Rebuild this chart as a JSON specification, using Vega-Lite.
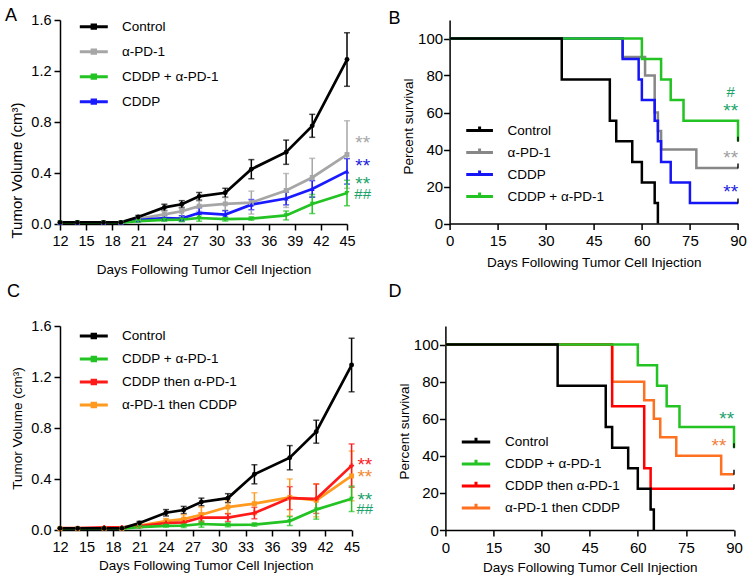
{
  "$schema": "https://vega.github.io/schema/vega-lite/v6.json",
  "background": "white",
  "padding": {"left": 5, "top": 6, "right": 5, "bottom": 5},
  "config": {
    "font": "Liberation Sans",
    "view": {"stroke": null},
    "axis": {"domainColor": "black", "domainWidth": 1.5, "tickColor": "black", "tickWidth": 1.5, "tickSize": 6, "labelColor": "black", "labelFontSize": 14.5, "labelPadding": 3, "titleColor": "black", "titleFontSize": 13.5, "titleFontWeight": "normal", "grid": false, "labelFlush": false, "labelOverlap": false},
    "axisX": {"labelPadding": 4},
    "legend": {"labelFontSize": 13.5, "labelColor": "black", "padding": 0, "orient": "none", "title": null},
    "title": {"fontSize": 18, "fontWeight": "normal", "color": "black", "anchor": "start", "frame": "group", "offset": 0}
  },
  "datasets": {
    "tumA": [
      {"g": "α-PD-1", "day": 12, "vol": 0.01, "sem": 0}, {"g": "α-PD-1", "day": 14, "vol": 0.01, "sem": 0}, {"g": "α-PD-1", "day": 17, "vol": 0.01, "sem": 0}, {"g": "α-PD-1", "day": 19, "vol": 0.012, "sem": 0}, {"g": "α-PD-1", "day": 21, "vol": 0.04, "sem": 0.01}, {"g": "α-PD-1", "day": 24, "vol": 0.075, "sem": 0.03}, {"g": "α-PD-1", "day": 26, "vol": 0.1, "sem": 0.035}, {"g": "α-PD-1", "day": 28, "vol": 0.14, "sem": 0.04}, {"g": "α-PD-1", "day": 31, "vol": 0.158, "sem": 0.05}, {"g": "α-PD-1", "day": 34, "vol": 0.168, "sem": 0.09}, {"g": "α-PD-1", "day": 38, "vol": 0.263, "sem": 0.133}, {"g": "α-PD-1", "day": 41, "vol": 0.365, "sem": 0.15}, {"g": "α-PD-1", "day": 45, "vol": 0.545, "sem": 0.265},
      {"g": "CDDP", "day": 12, "vol": 0.01, "sem": 0}, {"g": "CDDP", "day": 14, "vol": 0.01, "sem": 0}, {"g": "CDDP", "day": 17, "vol": 0.01, "sem": 0}, {"g": "CDDP", "day": 19, "vol": 0.01, "sem": 0}, {"g": "CDDP", "day": 21, "vol": 0.03, "sem": 0.008}, {"g": "CDDP", "day": 24, "vol": 0.047, "sem": 0.02}, {"g": "CDDP", "day": 26, "vol": 0.043, "sem": 0.022}, {"g": "CDDP", "day": 28, "vol": 0.087, "sem": 0.04}, {"g": "CDDP", "day": 31, "vol": 0.074, "sem": 0.03}, {"g": "CDDP", "day": 34, "vol": 0.152, "sem": 0.04}, {"g": "CDDP", "day": 38, "vol": 0.2, "sem": 0.05}, {"g": "CDDP", "day": 41, "vol": 0.275, "sem": 0.065}, {"g": "CDDP", "day": 45, "vol": 0.413, "sem": 0.1},
      {"g": "CDDP + α-PD-1", "day": 12, "vol": 0.01, "sem": 0}, {"g": "CDDP + α-PD-1", "day": 14, "vol": 0.01, "sem": 0}, {"g": "CDDP + α-PD-1", "day": 17, "vol": 0.01, "sem": 0}, {"g": "CDDP + α-PD-1", "day": 19, "vol": 0.01, "sem": 0}, {"g": "CDDP + α-PD-1", "day": 21, "vol": 0.022, "sem": 0.005}, {"g": "CDDP + α-PD-1", "day": 24, "vol": 0.033, "sem": 0.01}, {"g": "CDDP + α-PD-1", "day": 26, "vol": 0.034, "sem": 0.015}, {"g": "CDDP + α-PD-1", "day": 28, "vol": 0.047, "sem": 0.025}, {"g": "CDDP + α-PD-1", "day": 31, "vol": 0.038, "sem": 0.015}, {"g": "CDDP + α-PD-1", "day": 34, "vol": 0.042, "sem": 0.012}, {"g": "CDDP + α-PD-1", "day": 38, "vol": 0.067, "sem": 0.035}, {"g": "CDDP + α-PD-1", "day": 41, "vol": 0.157, "sem": 0.075}, {"g": "CDDP + α-PD-1", "day": 45, "vol": 0.243, "sem": 0.1},
      {"g": "Control", "day": 12, "vol": 0.013, "sem": 0}, {"g": "Control", "day": 14, "vol": 0.012, "sem": 0}, {"g": "Control", "day": 17, "vol": 0.012, "sem": 0}, {"g": "Control", "day": 19, "vol": 0.013, "sem": 0}, {"g": "Control", "day": 21, "vol": 0.055, "sem": 0.012}, {"g": "Control", "day": 24, "vol": 0.13, "sem": 0.025}, {"g": "Control", "day": 26, "vol": 0.155, "sem": 0.028}, {"g": "Control", "day": 28, "vol": 0.217, "sem": 0.03}, {"g": "Control", "day": 31, "vol": 0.245, "sem": 0.035}, {"g": "Control", "day": 34, "vol": 0.43, "sem": 0.075}, {"g": "Control", "day": 38, "vol": 0.563, "sem": 0.095}, {"g": "Control", "day": 41, "vol": 0.77, "sem": 0.09}, {"g": "Control", "day": 45, "vol": 1.29, "sem": 0.21}
    ],
    "tumC": [
      {"g": "α-PD-1 then CDDP", "day": 12, "vol": 0.01, "sem": 0}, {"g": "α-PD-1 then CDDP", "day": 14, "vol": 0.01, "sem": 0}, {"g": "α-PD-1 then CDDP", "day": 17, "vol": 0.012, "sem": 0}, {"g": "α-PD-1 then CDDP", "day": 19, "vol": 0.012, "sem": 0}, {"g": "α-PD-1 then CDDP", "day": 21, "vol": 0.035, "sem": 0.008}, {"g": "α-PD-1 then CDDP", "day": 24, "vol": 0.07, "sem": 0.02}, {"g": "α-PD-1 then CDDP", "day": 26, "vol": 0.085, "sem": 0.035}, {"g": "α-PD-1 then CDDP", "day": 28, "vol": 0.12, "sem": 0.06}, {"g": "α-PD-1 then CDDP", "day": 31, "vol": 0.18, "sem": 0.05}, {"g": "α-PD-1 then CDDP", "day": 34, "vol": 0.207, "sem": 0.085}, {"g": "α-PD-1 then CDDP", "day": 38, "vol": 0.255, "sem": 0.145}, {"g": "α-PD-1 then CDDP", "day": 41, "vol": 0.233, "sem": 0.13}, {"g": "α-PD-1 then CDDP", "day": 45, "vol": 0.424, "sem": 0.195},
      {"g": "CDDP then α-PD-1", "day": 12, "vol": 0.015, "sem": 0}, {"g": "CDDP then α-PD-1", "day": 14, "vol": 0.015, "sem": 0}, {"g": "CDDP then α-PD-1", "day": 17, "vol": 0.02, "sem": 0}, {"g": "CDDP then α-PD-1", "day": 19, "vol": 0.02, "sem": 0}, {"g": "CDDP then α-PD-1", "day": 21, "vol": 0.03, "sem": 0.008}, {"g": "CDDP then α-PD-1", "day": 24, "vol": 0.055, "sem": 0.015}, {"g": "CDDP then α-PD-1", "day": 26, "vol": 0.06, "sem": 0.02}, {"g": "CDDP then α-PD-1", "day": 28, "vol": 0.098, "sem": 0.035}, {"g": "CDDP then α-PD-1", "day": 31, "vol": 0.097, "sem": 0.03}, {"g": "CDDP then α-PD-1", "day": 34, "vol": 0.133, "sem": 0.045}, {"g": "CDDP then α-PD-1", "day": 38, "vol": 0.25, "sem": 0.09}, {"g": "CDDP then α-PD-1", "day": 41, "vol": 0.245, "sem": 0.115}, {"g": "CDDP then α-PD-1", "day": 45, "vol": 0.505, "sem": 0.17},
      {"g": "CDDP + α-PD-1", "day": 12, "vol": 0.01, "sem": 0}, {"g": "CDDP + α-PD-1", "day": 14, "vol": 0.01, "sem": 0}, {"g": "CDDP + α-PD-1", "day": 17, "vol": 0.01, "sem": 0}, {"g": "CDDP + α-PD-1", "day": 19, "vol": 0.01, "sem": 0}, {"g": "CDDP + α-PD-1", "day": 21, "vol": 0.022, "sem": 0.005}, {"g": "CDDP + α-PD-1", "day": 24, "vol": 0.033, "sem": 0.01}, {"g": "CDDP + α-PD-1", "day": 26, "vol": 0.034, "sem": 0.015}, {"g": "CDDP + α-PD-1", "day": 28, "vol": 0.047, "sem": 0.025}, {"g": "CDDP + α-PD-1", "day": 31, "vol": 0.04, "sem": 0.015}, {"g": "CDDP + α-PD-1", "day": 34, "vol": 0.042, "sem": 0.012}, {"g": "CDDP + α-PD-1", "day": 38, "vol": 0.07, "sem": 0.035}, {"g": "CDDP + α-PD-1", "day": 41, "vol": 0.16, "sem": 0.075}, {"g": "CDDP + α-PD-1", "day": 45, "vol": 0.245, "sem": 0.1},
      {"g": "Control", "day": 12, "vol": 0.013, "sem": 0}, {"g": "Control", "day": 14, "vol": 0.012, "sem": 0}, {"g": "Control", "day": 17, "vol": 0.012, "sem": 0}, {"g": "Control", "day": 19, "vol": 0.013, "sem": 0}, {"g": "Control", "day": 21, "vol": 0.055, "sem": 0.012}, {"g": "Control", "day": 24, "vol": 0.135, "sem": 0.025}, {"g": "Control", "day": 26, "vol": 0.157, "sem": 0.028}, {"g": "Control", "day": 28, "vol": 0.22, "sem": 0.03}, {"g": "Control", "day": 31, "vol": 0.25, "sem": 0.035}, {"g": "Control", "day": 34, "vol": 0.437, "sem": 0.075}, {"g": "Control", "day": 38, "vol": 0.567, "sem": 0.095}, {"g": "Control", "day": 41, "vol": 0.771, "sem": 0.09}, {"g": "Control", "day": 45, "vol": 1.294, "sem": 0.21}
    ],
    "survB": [
      {"g": "α-PD-1", "day": 0, "surv": 100}, {"g": "α-PD-1", "day": 54, "surv": 90}, {"g": "α-PD-1", "day": 61, "surv": 80}, {"g": "α-PD-1", "day": 64, "surv": 60}, {"g": "α-PD-1", "day": 65, "surv": 50}, {"g": "α-PD-1", "day": 66, "surv": 40}, {"g": "α-PD-1", "day": 77, "surv": 30}, {"g": "α-PD-1", "day": 90, "surv": 30},
      {"g": "CDDP", "day": 0, "surv": 100}, {"g": "CDDP", "day": 54, "surv": 88.9}, {"g": "CDDP", "day": 59, "surv": 77.8}, {"g": "CDDP", "day": 60, "surv": 66.7}, {"g": "CDDP", "day": 64, "surv": 55.6}, {"g": "CDDP", "day": 65, "surv": 44.4}, {"g": "CDDP", "day": 66, "surv": 33.3}, {"g": "CDDP", "day": 69, "surv": 22.2}, {"g": "CDDP", "day": 75, "surv": 11.1}, {"g": "CDDP", "day": 90, "surv": 11.1},
      {"g": "CDDP + α-PD-1", "day": 0, "surv": 100}, {"g": "CDDP + α-PD-1", "day": 60, "surv": 88.9}, {"g": "CDDP + α-PD-1", "day": 66, "surv": 77.8}, {"g": "CDDP + α-PD-1", "day": 69, "surv": 66.7}, {"g": "CDDP + α-PD-1", "day": 73, "surv": 55.6}, {"g": "CDDP + α-PD-1", "day": 90, "surv": 44.4},
      {"g": "Control", "day": 0, "surv": 100}, {"g": "Control", "day": 35, "surv": 77.8}, {"g": "Control", "day": 50, "surv": 55.6}, {"g": "Control", "day": 52, "surv": 44.4}, {"g": "Control", "day": 57, "surv": 33.3}, {"g": "Control", "day": 60, "surv": 22.2}, {"g": "Control", "day": 64, "surv": 11.1}, {"g": "Control", "day": 65, "surv": 0}
    ],
    "censB": [
      {"g": "α-PD-1", "day": 90, "surv": 30}, {"g": "CDDP", "day": 90, "surv": 11.1}, {"g": "CDDP + α-PD-1", "day": 90, "surv": 44.4}
    ],
    "survD": [
      {"g": "α-PD-1 then CDDP", "day": 0, "surv": 100}, {"g": "α-PD-1 then CDDP", "day": 52, "surv": 80}, {"g": "α-PD-1 then CDDP", "day": 62, "surv": 70}, {"g": "α-PD-1 then CDDP", "day": 65, "surv": 60}, {"g": "α-PD-1 then CDDP", "day": 67, "surv": 50}, {"g": "α-PD-1 then CDDP", "day": 72, "surv": 40}, {"g": "α-PD-1 then CDDP", "day": 86, "surv": 30}, {"g": "α-PD-1 then CDDP", "day": 90, "surv": 30},
      {"g": "CDDP then α-PD-1", "day": 0, "surv": 100}, {"g": "CDDP then α-PD-1", "day": 52, "surv": 66.7}, {"g": "CDDP then α-PD-1", "day": 62, "surv": 33.3}, {"g": "CDDP then α-PD-1", "day": 64, "surv": 22.2}, {"g": "CDDP then α-PD-1", "day": 90, "surv": 22.2},
      {"g": "CDDP + α-PD-1", "day": 0, "surv": 100}, {"g": "CDDP + α-PD-1", "day": 60, "surv": 88.9}, {"g": "CDDP + α-PD-1", "day": 66, "surv": 77.8}, {"g": "CDDP + α-PD-1", "day": 69, "surv": 66.7}, {"g": "CDDP + α-PD-1", "day": 73, "surv": 55.6}, {"g": "CDDP + α-PD-1", "day": 90, "surv": 44.4},
      {"g": "Control", "day": 0, "surv": 100}, {"g": "Control", "day": 35, "surv": 77.8}, {"g": "Control", "day": 50, "surv": 55.6}, {"g": "Control", "day": 52, "surv": 44.4}, {"g": "Control", "day": 57, "surv": 33.3}, {"g": "Control", "day": 60, "surv": 22.2}, {"g": "Control", "day": 64, "surv": 11.1}, {"g": "Control", "day": 65, "surv": 0}
    ],
    "censD": [
      {"g": "CDDP + α-PD-1", "day": 90, "surv": 44.4}, {"g": "α-PD-1 then CDDP", "day": 90, "surv": 30}, {"g": "CDDP then α-PD-1", "day": 90, "surv": 22.2}
    ],
    "sigA": [
      {"k": "gray", "day": 46.8, "vol": 0.643, "t": "**"}, {"k": "blue", "day": 46.8, "vol": 0.466, "t": "**"}, {"k": "green", "day": 46.8, "vol": 0.322, "t": "**"}, {"k": "green", "day": 46.8, "vol": 0.217, "t": "##"}
    ],
    "sigC": [
      {"k": "red", "day": 46.5, "vol": 0.521, "t": "**"}, {"k": "orange", "day": 46.5, "vol": 0.421, "t": "**"}, {"k": "green", "day": 46.5, "vol": 0.246, "t": "**"}, {"k": "green", "day": 46.5, "vol": 0.149, "t": "##"}
    ],
    "sigB": [
      {"k": "green", "day": 87.7, "surv": 69.7, "t": "#"}, {"k": "green", "day": 87.7, "surv": 61.6, "t": "**"}, {"k": "gray", "day": 87.7, "surv": 35.8, "t": "**"}, {"k": "blue", "day": 87.7, "surv": 17.8, "t": "**"}
    ],
    "sigD": [
      {"k": "green", "day": 87.7, "surv": 60.4, "t": "**"}, {"k": "orange", "day": 85.3, "surv": 45.8, "t": "**"}
    ]
  },
  "resolve": {"scale": {"color": "independent", "shape": "independent"}, "legend": {"color": "independent"}},
  "vconcat": [
    {
      "bounds": "flush",
      "spacing": 102.6,
      "resolve": {"scale": {"color": "independent", "shape": "independent"}, "legend": {"color": "independent"}},
      "hconcat": [
        {
          "width": 287, "height": 204,
          "title": {"text": "A", "dx": -55, "dy": 16.5},
          "encoding": {
            "x": {"field": "day", "type": "quantitative", "scale": {"domain": [12, 45], "nice": false, "zero": false}, "axis": {"values": [12, 15, 18, 21, 24, 27, 30, 33, 36, 39, 42, 45], "title": "Days Following Tumor Cell Injection", "titlePadding": 15}},
            "y": {"field": "vol", "type": "quantitative", "scale": {"domain": [0, 1.6], "nice": false}, "axis": {"values": [0, 0.4, 0.8, 1.2, 1.6], "format": ".1f", "title": "Tumor Volume (cm³)", "titleFontSize": 15, "titleY": 150, "titlePadding": 6}}
          },
          "resolve": {"scale": {"color": "independent", "shape": "independent"}},
          "layer": [
            {
              "data": {"name": "tumA"},
              "transform": [{"filter": "datum.sem > 0"}],
              "mark": {"type": "errorbar", "ticks": {"size": 6}, "thickness": 1.5},
              "encoding": {
                "yError": {"field": "sem"},
                "color": {"field": "g", "type": "nominal", "scale": {"domain": ["Control", "α-PD-1", "CDDP + α-PD-1", "CDDP"], "range": ["#000000", "#a6a6a6", "#22c322", "#1a1aff"]}, "legend": null}
              }
            },
            {
              "data": {"name": "tumA"},
              "mark": {"type": "line", "strokeWidth": 2.7},
              "encoding": {
                "color": {"field": "g", "type": "nominal", "scale": {"domain": ["Control", "α-PD-1", "CDDP + α-PD-1", "CDDP"], "range": ["#000000", "#a6a6a6", "#22c322", "#1a1aff"]},
                  "legend": {"legendX": 18.3, "legendY": -4.5, "symbolType": "M-1,0H1M-0.12,-0.12H0.12V0.12H-0.12Z", "symbolSize": 784, "symbolStrokeWidth": 3, "clipHeight": 22.3, "rowPadding": 2, "labelOffset": 12.7}}
              }
            },
            {
              "data": {"name": "tumA"},
              "mark": {"type": "point", "filled": true, "size": 24, "opacity": 1},
              "encoding": {
                "color": {"field": "g", "type": "nominal", "scale": {"domain": ["Control", "α-PD-1", "CDDP + α-PD-1", "CDDP"], "range": ["#000000", "#a6a6a6", "#22c322", "#1a1aff"]}, "legend": null},
                "shape": {"field": "g", "type": "nominal", "scale": {"domain": ["Control", "α-PD-1", "CDDP + α-PD-1", "CDDP"], "range": ["circle", "square", "triangle-down", "triangle-up"]}, "legend": null}
              }
            },
            {
              "data": {"name": "sigA"},
              "transform": [{"filter": "datum.t == '**'"}],
              "mark": {"type": "text", "fontSize": 19, "dy": 7, "baseline": "alphabetic", "align": "center"},
              "encoding": {
                "text": {"field": "t"},
                "color": {"field": "k", "type": "nominal", "scale": {"domain": ["gray", "blue", "green"], "range": ["#a6a6a6", "#2222dd", "#1aa36a"]}, "legend": null}
              }
            },
            {
              "data": {"name": "sigA"},
              "transform": [{"filter": "datum.t != '**'"}],
              "mark": {"type": "text", "fontSize": 15, "dy": 2.5, "baseline": "alphabetic", "align": "center"},
              "encoding": {
                "text": {"field": "t"},
                "color": {"field": "k", "type": "nominal", "scale": {"domain": ["gray", "blue", "green"], "range": ["#a6a6a6", "#2222dd", "#1aa36a"]}, "legend": null}
              }
            }
          ]
        },
        {
          "width": 288.4, "height": 203.5,
          "title": {"text": "B", "dx": -61, "dy": 12},
          "encoding": {
            "x": {"field": "day", "type": "quantitative", "scale": {"domain": [0, 90], "nice": false}, "axis": {"values": [0, 15, 30, 45, 60, 75, 90], "title": "Days Following Tumor Cell Injection", "titlePadding": 7, "labelFontSize": 15}},
            "y": {"field": "surv", "type": "quantitative", "scale": {"domain": [0, 110], "nice": false}, "axis": {"values": [0, 20, 40, 60, 80, 100], "title": "Percent survival", "titleY": 106, "titlePadding": 2, "labelFontSize": 15, "labelPadding": 1}}
          },
          "resolve": {"scale": {"color": "independent"}},
          "layer": [
            {
              "data": {"name": "survB"},
              "mark": {"type": "line", "interpolate": "step-after", "strokeWidth": 2.5},
              "encoding": {
                "color": {"field": "g", "type": "nominal", "scale": {"domain": ["Control", "α-PD-1", "CDDP", "CDDP + α-PD-1"], "range": ["#000000", "#878787", "#1515f5", "#22c322"]},
                  "legend": {"legendX": 15, "legendY": 100.7, "symbolType": "M-1,0H1M0,0V-0.3", "symbolSize": 713, "symbolStrokeWidth": 3, "clipHeight": 19.6, "rowPadding": 2, "labelOffset": 13}}
              }
            },
            {
              "data": {"name": "censB"},
              "mark": {"type": "tick", "orient": "vertical", "size": 5, "thickness": 2, "color": "black", "yOffset": -2},
              "encoding": {}
            },
            {
              "data": {"name": "sigB"},
              "transform": [{"filter": "datum.t == '**'"}],
              "mark": {"type": "text", "fontSize": 19, "dy": 7, "baseline": "alphabetic", "align": "center"},
              "encoding": {
                "text": {"field": "t"},
                "color": {"field": "k", "type": "nominal", "scale": {"domain": ["gray", "blue", "green"], "range": ["#a0a0a0", "#2222dd", "#1aa36a"]}, "legend": null}
              }
            },
            {
              "data": {"name": "sigB"},
              "transform": [{"filter": "datum.t != '**'"}],
              "mark": {"type": "text", "fontSize": 15, "dy": 2.5, "baseline": "alphabetic", "align": "center"},
              "encoding": {
                "text": {"field": "t"},
                "color": {"field": "k", "type": "nominal", "scale": {"domain": ["gray", "blue", "green"], "range": ["#a0a0a0", "#2222dd", "#1aa36a"]}, "legend": null}
              }
            }
          ]
        }
      ]
    },
    {
      "bounds": "flush",
      "spacing": 93.4,
      "resolve": {"scale": {"color": "independent", "shape": "independent"}, "legend": {"color": "independent"}},
      "hconcat": [
        {
          "width": 291.6, "height": 204,
          "title": {"text": "C", "dx": -53, "dy": -12.7},
          "encoding": {
            "x": {"field": "day", "type": "quantitative", "scale": {"domain": [12, 45], "nice": false, "zero": false}, "axis": {"values": [12, 15, 18, 21, 24, 27, 30, 33, 36, 39, 42, 45], "title": "Days Following Tumor Cell Injection", "titlePadding": 5}},
            "y": {"field": "vol", "type": "quantitative", "scale": {"domain": [0, 1.6], "nice": false}, "axis": {"values": [0, 0.4, 0.8, 1.2, 1.6], "format": ".1f", "title": "Tumor Volume (cm³)", "titlePadding": 6}}
          },
          "resolve": {"scale": {"color": "independent", "shape": "independent"}},
          "layer": [
            {
              "data": {"name": "tumC"},
              "transform": [{"filter": "datum.sem > 0"}],
              "mark": {"type": "errorbar", "ticks": {"size": 6}, "thickness": 1.5},
              "encoding": {
                "yError": {"field": "sem"},
                "color": {"field": "g", "type": "nominal", "scale": {"domain": ["Control", "CDDP + α-PD-1", "CDDP then α-PD-1", "α-PD-1 then CDDP"], "range": ["#000000", "#22c322", "#ff1a1a", "#ff9a1f"]}, "legend": null}
              }
            },
            {
              "data": {"name": "tumC"},
              "mark": {"type": "line", "strokeWidth": 2.7},
              "encoding": {
                "color": {"field": "g", "type": "nominal", "scale": {"domain": ["Control", "CDDP + α-PD-1", "CDDP then α-PD-1", "α-PD-1 then CDDP"], "range": ["#000000", "#22c322", "#ff1a1a", "#ff9a1f"]},
                  "legend": {"legendX": 18.3, "legendY": 0, "symbolType": "M-1,0H1M-0.12,-0.12H0.12V0.12H-0.12Z", "symbolSize": 784, "symbolStrokeWidth": 3, "clipHeight": 20.1, "rowPadding": 2, "labelOffset": 12.7}}
              }
            },
            {
              "data": {"name": "tumC"},
              "mark": {"type": "point", "filled": true, "size": 24, "opacity": 1},
              "encoding": {
                "color": {"field": "g", "type": "nominal", "scale": {"domain": ["Control", "CDDP + α-PD-1", "CDDP then α-PD-1", "α-PD-1 then CDDP"], "range": ["#000000", "#22c322", "#ff1a1a", "#ff9a1f"]}, "legend": null},
                "shape": {"field": "g", "type": "nominal", "scale": {"domain": ["Control", "CDDP + α-PD-1", "CDDP then α-PD-1", "α-PD-1 then CDDP"], "range": ["circle", "triangle-down", "cross", "square"]}, "legend": null}
              }
            },
            {
              "data": {"name": "sigC"},
              "transform": [{"filter": "datum.t == '**'"}],
              "mark": {"type": "text", "fontSize": 19, "dy": 7, "baseline": "alphabetic", "align": "center"},
              "encoding": {
                "text": {"field": "t"},
                "color": {"field": "k", "type": "nominal", "scale": {"domain": ["red", "orange", "green"], "range": ["#ff2020", "#f28a30", "#1aa36a"]}, "legend": null}
              }
            },
            {
              "data": {"name": "sigC"},
              "transform": [{"filter": "datum.t != '**'"}],
              "mark": {"type": "text", "fontSize": 15, "dy": 2.5, "baseline": "alphabetic", "align": "center"},
              "encoding": {
                "text": {"field": "t"},
                "color": {"field": "k", "type": "nominal", "scale": {"domain": ["red", "orange", "green"], "range": ["#ff2020", "#f28a30", "#1aa36a"]}, "legend": null}
              }
            }
          ]
        },
        {
          "width": 288.6, "height": 204,
          "title": {"text": "D", "dx": -57, "dy": -20.7},
          "encoding": {
            "x": {"field": "day", "type": "quantitative", "scale": {"domain": [0, 90], "nice": false}, "axis": {"values": [0, 15, 30, 45, 60, 75, 90], "title": "Days Following Tumor Cell Injection", "titlePadding": 5, "labelFontSize": 15}},
            "y": {"field": "surv", "type": "quantitative", "scale": {"domain": [0, 110], "nice": false}, "axis": {"values": [0, 20, 40, 60, 80, 100], "title": "Percent survival", "titleY": 105, "titlePadding": 2, "labelFontSize": 15, "labelPadding": 1}}
          },
          "resolve": {"scale": {"color": "independent"}},
          "layer": [
            {
              "data": {"name": "survD"},
              "mark": {"type": "line", "interpolate": "step-after", "strokeWidth": 2.5},
              "encoding": {
                "color": {"field": "g", "type": "nominal", "scale": {"domain": ["Control", "CDDP + α-PD-1", "CDDP then α-PD-1", "α-PD-1 then CDDP"], "range": ["#000000", "#22c322", "#ff0000", "#ff7020"]},
                  "legend": {"legendX": 14.6, "legendY": 106.3, "symbolType": "M-1,0H1M0,0V-0.3", "symbolSize": 807, "symbolStrokeWidth": 3, "clipHeight": 19.4, "rowPadding": 2, "labelOffset": 13}}
              }
            },
            {
              "data": {"name": "censD"},
              "mark": {"type": "tick", "orient": "vertical", "size": 5, "thickness": 2, "color": "black", "yOffset": -2},
              "encoding": {}
            },
            {
              "data": {"name": "sigD"},
              "mark": {"type": "text", "fontSize": 19, "dy": 7, "baseline": "alphabetic", "align": "center"},
              "encoding": {
                "text": {"field": "t"},
                "color": {"field": "k", "type": "nominal", "scale": {"domain": ["orange", "green"], "range": ["#f08040", "#1aa36a"]}, "legend": null}
              }
            }
          ]
        }
      ]
    }
  ],
  "spacing": 7,
  "bounds": "full"
}
